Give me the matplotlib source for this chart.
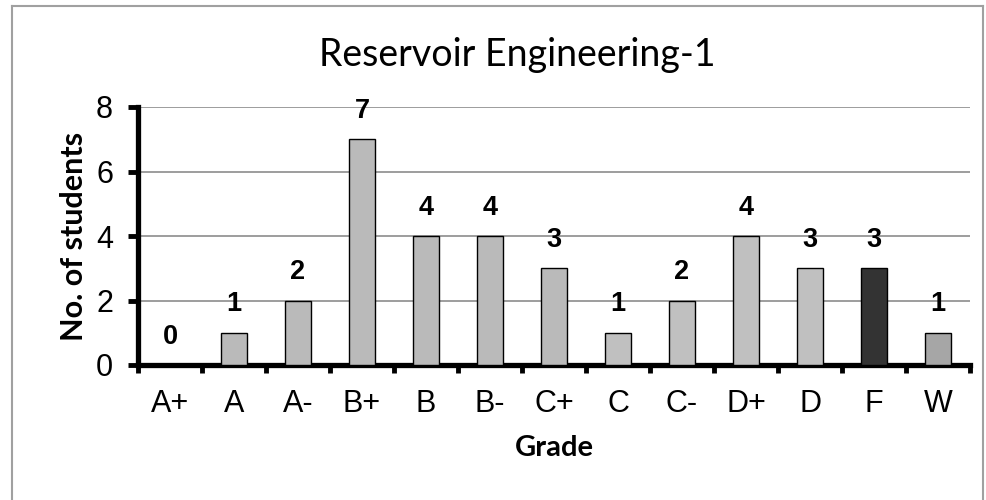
import numpy as np
import matplotlib.pyplot as plt
from matplotlib.lines import Line2D

grades = ["A+", "A", "A-", "B+", "B", "B-", "C+", "C", "C-", "D+", "D", "F", "W"]
counts = [0, 1, 2, 7, 4, 4, 3, 1, 2, 4, 3, 3, 1]
bar_colors = ["#bababa"] * 7 + ["#c0c0c0"] * 4 + ["#333333", "#a6a6a6"]

fig = plt.figure(figsize=(9.86, 5), dpi=100)
ax = fig.add_axes([138/986, 1 - 365/500, (970 - 138)/986, (365 - 107)/500])

x = np.arange(len(grades))
ax.bar(x, counts, width=0.4, color=bar_colors, edgecolor="black", linewidth=1.0, zorder=3)

# data labels
for xi, c in zip(x, counts):
    ax.annotate(str(c), (xi, c), xytext=(0, 11), textcoords="offset points",
                ha="center", va="bottom", fontsize=19.5, fontweight="bold",
                family="Liberation Sans")

ax.set_xlim(-0.5, len(grades) - 0.5)
ax.set_ylim(0, 8)
ax.set_yticks([0, 2, 4, 6, 8])
ax.yaxis.grid(True, color="#8c8c8c", linewidth=1.2, zorder=0)
ax.set_axisbelow(True)

# x ticks at category boundaries, labels at centers
ax.set_xticks(np.arange(-0.5, len(grades)), minor=False)
ax.set_xticklabels([])
ax.set_xticks(x, minor=True)
ax.set_xticklabels(grades, minor=True, fontsize=22, family="Liberation Sans")
ax.tick_params(axis="x", which="minor", length=0, pad=17)
ax.tick_params(axis="x", which="major", length=6, width=3.5, direction="out")
ax.tick_params(axis="y", length=7, width=3.5, direction="out", pad=11,
               labelsize=22)
for lab in ax.get_yticklabels():
    lab.set_family("Liberation Sans")

for s in ["top", "right"]:
    ax.spines[s].set_visible(False)
for s in ["left", "bottom"]:
    ax.spines[s].set_linewidth(3.8)

ax.set_xlabel("Grade", fontsize=21, fontweight="bold", family="Lato", labelpad=12)
ax.set_ylabel("No. of students", fontsize=22, fontweight="bold", family="Lato", labelpad=6)

fig.text(0.525, 1 - 55/500, "Reservoir Engineering-1", ha="center", va="center",
         fontsize=27, family="Lato")

# outer chart frame
frame = "#a0a0a0"
fig.add_artist(Line2D([12/986, 12/986], [0, 1 - 6/500], transform=fig.transFigure, color=frame, lw=1.5))
fig.add_artist(Line2D([12/986, 983/986], [1 - 6/500, 1 - 6/500], transform=fig.transFigure, color=frame, lw=1.5))
fig.add_artist(Line2D([983/986, 983/986], [0, 1 - 6/500], transform=fig.transFigure, color=frame, lw=1.5))

fig.savefig("out.png", dpi=100)
